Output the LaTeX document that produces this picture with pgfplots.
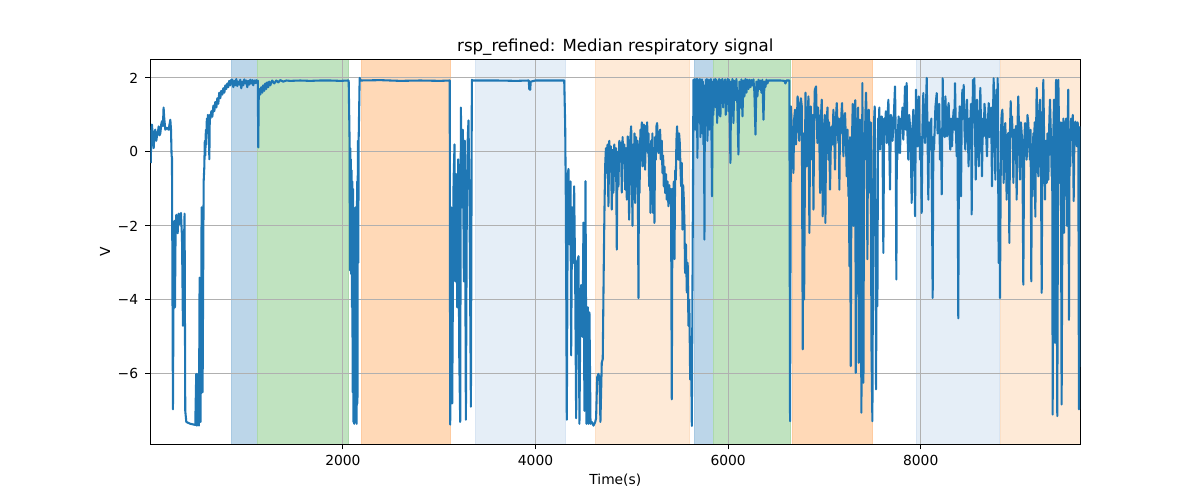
\documentclass[border=0pt]{standalone}
\usepackage{pgfplots}
\pgfplotsset{compat=1.18}
\usepackage{fontspec}
\setmainfont{DejaVu Sans}
\definecolor{tabblue}{RGB}{31,119,180}
\definecolor{gridgray}{RGB}{176,176,176}
\definecolor{sblue}{RGB}{188,214,233}
\definecolor{sgreen}{RGB}{192,227,192}
\definecolor{sorange}{RGB}{255,217,183}
\definecolor{slblue}{RGB}{229,238,247}
\definecolor{slorange}{RGB}{254,234,215}
\definecolor{eblue}{RGB}{168,201,226}
\definecolor{egreen}{RGB}{172,217,172}
\definecolor{eorange}{RGB}{254,203,160}
\definecolor{elblue}{RGB}{216,229,243}
\definecolor{elorange}{RGB}{252,224,198}
\pgfplotstableread{
x y
5 -0.30
10 0.50
17 0.74
28 0.35
35 0.10
45 0.55
52 0.60
62 0.30
69 0.42
80 0.55
87 0.69
97 0.45
104 0.50
114 0.75
121 0.83
131 0.70
138 1.20
145 0.90
156 0.60
173 0.65
190 0.60
208 0.87
215 0.60
221 -0.10
225 -0.16
235 -6.96
242 -3.50
249 -1.87
256 -4.20
263 -2.00
270 -1.70
284 -2.20
294 -1.67
304 -1.95
318 -1.65
329 -2.30
339 -4.70
346 -3.00
356 -1.67
363 -7.00
374 -7.30
415 -7.35
467 -7.38
477 -6.00
484 -7.40
495 -6.00
505 -7.40
512 -3.40
522 -7.30
533 -1.50
543 -6.50
554 -0.80
561 -0.40
566 0.30
571 -0.10
577 0.60
582 0.20
587 0.90
592 0.50
598 1.00
603 0.70
608 0.90
613 -0.20
618 1.00
624 0.90
634 1.10
644 0.95
655 1.25
665 1.10
675 1.35
686 1.20
696 1.45
706 1.30
716 1.60
727 1.45
737 1.65
748 1.55
758 1.72
769 1.60
779 1.80
789 1.70
800 1.85
810 1.75
820 1.92
831 1.80
841 1.95
851 1.95
862 1.75
872 1.92
882 1.80
893 1.97
903 1.78
913 1.90
924 1.82
934 1.95
945 1.72
955 1.90
965 1.80
976 1.96
986 1.85
997 1.93
1007 1.75
1017 1.92
1028 1.82
1038 1.95
1048 1.85
1059 1.94
1069 1.80
1080 1.93
1090 1.86
1100 1.94
1111 1.85
1116 1.93
1121 0.12
1126 1.50
1131 1.70
1142 1.55
1152 1.75
1163 1.60
1173 1.80
1183 1.65
1194 1.85
1204 1.70
1214 1.88
1225 1.75
1235 1.90
1246 1.80
1266 1.93
1287 1.85
1308 1.93
1329 1.88
1349 1.94
1381 1.90
1412 1.93
1453 1.92
1557 1.93
1661 1.92
1765 1.93
1868 1.93
1972 1.92
2055 1.93
2060 1.93
2070 0.20
2073 -3.20
2076 0.10
2080 -3.00
2083 -0.20
2086 -3.30
2091 -0.50
2094 -4.20
2097 -0.80
2101 -6.50
2105 -1.00
2109 -7.30
2113 -2.00
2117 -7.35
2122 -3.00
2126 -7.30
2130 -1.50
2134 -7.00
2138 -2.50
2143 -7.35
2147 -0.80
2151 -6.80
2155 0.30
2159 -3.00
2164 0.40
2169 1.20
2174 2.00
2184 1.93
2387 1.94
2595 1.92
2803 1.93
3010 1.92
3109 1.93
3114 -7.37
3124 -1.50
3135 -6.80
3149 -0.80
3159 0.20
3166 -3.50
3176 -0.60
3187 -4.20
3197 -0.20
3208 -5.50
3218 -7.30
3225 1.20
3235 -1.50
3246 0.60
3256 -3.50
3266 0.30
3277 -7.24
3287 -1.20
3297 0.40
3304 0.85
3315 -1.50
3329 -6.89
3339 1.95
3345 1.93
3600 1.93
3800 1.92
3930 1.93
3935 1.70
3945 1.68
3950 1.90
4000 1.93
4200 1.93
4298 1.93
4308 0.74
4315 -1.37
4325 -7.24
4336 -0.60
4342 -0.46
4353 -2.50
4363 -0.80
4370 -5.50
4380 -1.50
4391 -3.00
4401 -0.93
4412 -3.50
4422 -7.20
4432 -3.00
4446 -2.82
4456 -7.35
4467 -4.00
4474 -3.60
4487 -5.00
4498 -1.91
4508 -7.00
4519 -0.79
4529 -7.35
4543 -4.20
4550 -7.35
4560 -4.34
4571 -7.35
4584 -7.30
4602 -7.40
4620 -7.30
4629 -7.20
4640 -6.10
4653 -6.00
4664 -6.10
4674 -7.30
4688 -5.70
4698 -5.60
4709 -3.00
4715 -1.74
4723 -0.39
4731 0.10
4740 -0.57
4748 0.20
4757 -1.47
4766 0.30
4775 -0.48
4783 0.15
4792 -1.56
4800 0.05
4809 -1.10
4818 0.20
4827 -0.48
4836 0.10
4844 -2.64
4851 0.00
4856 -0.60
4861 -0.93
4870 0.30
4879 -0.12
4887 0.25
4896 -1.10
4904 0.40
4913 -0.30
4922 0.20
4931 -1.02
4940 0.10
4948 -1.29
4958 0.42
4965 -0.60
4972 -1.83
4983 0.30
4993 0.69
5000 -0.40
5007 -2.00
5014 0.20
5021 -0.66
5028 0.50
5034 -1.38
5043 0.40
5052 -0.93
5060 0.30
5069 -3.95
5075 0.20
5080 -1.11
5089 0.60
5097 0.33
5104 0.80
5111 -0.39
5118 0.40
5125 0.74
5131 0.10
5138 -0.48
5145 0.70
5152 0.33
5159 0.80
5166 -0.03
5173 0.50
5180 -0.93
5187 0.20
5194 -1.65
5200 0.30
5207 -0.21
5214 0.50
5221 -1.65
5228 0.10
5235 -1.92
5242 0.40
5249 -0.21
5256 0.70
5263 0.78
5270 0.20
5276 -0.03
5285 0.50
5294 0.60
5299 -0.20
5304 0.15
5311 0.30
5318 -0.57
5325 -0.10
5332 -0.93
5339 -0.40
5346 -1.11
5355 -0.60
5363 -1.29
5371 -0.80
5380 -1.47
5389 -0.90
5398 -1.38
5407 -1.00
5415 -6.69
5422 -1.00
5429 -1.56
5436 -0.80
5443 -2.90
5450 -0.50
5457 -0.75
5463 0.30
5470 0.69
5477 0.10
5484 -0.21
5491 0.50
5498 0.24
5505 -0.40
5512 -0.93
5519 -0.30
5526 -2.10
5533 -0.90
5540 -1.29
5547 -2.00
5553 -3.27
5562 -2.50
5571 -3.80
5580 -3.00
5588 -4.70
5597 -4.00
5606 -6.15
5614 -5.00
5623 -7.41
5640 1.95
5645 1.95
5650 0.90
5655 1.97
5660 0.60
5666 1.90
5671 1.20
5676 1.98
5681 -0.16
5686 1.90
5692 0.80
5697 1.95
5702 1.00
5707 1.97
5712 0.40
5718 1.85
5723 1.30
5728 1.96
5733 0.50
5738 1.90
5743 0.20
5749 1.60
5754 -2.37
5759 1.80
5764 0.70
5769 1.95
5775 1.10
5780 1.97
5785 0.30
5790 1.90
5795 0.90
5800 1.95
5806 0.60
5811 1.90
5816 1.20
5821 1.97
5826 0.80
5833 -1.20
5840 1.90
5847 1.00
5853 1.96
5863 1.50
5868 1.97
5873 1.20
5878 1.95
5886 0.78
5892 1.90
5899 1.30
5906 1.97
5912 1.00
5920 0.96
5927 1.95
5933 1.40
5941 1.97
5948 1.20
5954 1.90
5962 1.50
5969 1.96
5975 1.00
5982 1.90
5990 1.60
5996 1.97
6003 1.10
6010 1.95
6024 -0.30
6031 1.90
6037 1.30
6045 1.97
6055 0.78
6065 1.92
6076 1.40
6086 1.97
6097 1.20
6107 -0.07
6117 1.90
6128 1.20
6138 1.96
6149 0.96
6159 1.93
6169 1.50
6180 1.97
6190 1.60
6200 1.95
6211 1.70
6221 1.95
6232 1.75
6242 1.94
6252 1.80
6263 1.96
6273 1.60
6284 0.47
6294 1.90
6304 1.50
6315 1.95
6325 1.70
6335 1.93
6346 1.60
6356 1.95
6367 0.87
6377 1.90
6387 1.75
6398 1.95
6408 1.85
6418 1.93
6439 1.93
6543 1.93
6585 1.92
6595 1.85
6605 1.93
6636 1.93
6643 -7.28
6652 1.23
6665 0.40
6678 -0.57
6686 0.90
6695 1.14
6704 0.20
6713 0.69
6721 1.50
6730 1.32
6738 0.30
6747 0.78
6756 1.45
6765 1.23
6775 -5.34
6782 0.50
6789 -3.99
6803 1.60
6810 0.60
6817 -0.39
6825 0.90
6834 1.50
6844 -2.19
6851 0.60
6858 1.23
6865 0.40
6872 -0.21
6879 1.00
6886 -1.56
6893 0.80
6900 1.68
6913 1.77
6920 0.90
6927 0.24
6934 1.20
6941 0.87
6948 0.20
6955 -1.11
6963 0.90
6972 1.41
6977 0.30
6982 -1.74
6989 0.70
6996 0.24
7003 1.00
7010 -1.92
7017 0.40
7024 0.87
7032 1.20
7041 -0.21
7049 0.80
7058 -1.02
7067 0.30
7076 0.69
7084 0.20
7093 1.14
7101 0.60
7110 -0.48
7119 0.90
7128 1.32
7136 0.70
7145 0.24
7150 0.90
7155 -1.02
7162 0.80
7169 0.51
7176 1.00
7183 1.32
7190 0.50
7197 -0.12
7205 0.90
7214 1.05
7223 0.30
7232 -0.66
7240 0.60
7249 -1.20
7254 0.30
7259 -3.09
7266 0.40
7273 -5.79
7280 -1.00
7287 0.42
7294 1.30
7301 -2.00
7308 0.80
7315 0.60
7320 1.40
7325 -5.97
7333 0.90
7342 -0.48
7349 1.20
7356 -5.70
7363 -0.50
7370 0.87
7377 -2.00
7384 -7.05
7394 1.86
7405 -6.24
7412 0.50
7419 -0.21
7425 1.00
7432 1.60
7439 0.70
7446 -2.90
7453 0.50
7460 1.14
7467 0.40
7474 -1.11
7481 0.80
7488 -5.16
7498 -7.28
7508 -0.21
7515 0.80
7522 1.23
7529 -1.00
7536 -6.42
7543 -2.00
7550 -4.17
7557 0.90
7564 0.69
7570 1.20
7577 0.06
7586 0.80
7595 0.96
7603 0.30
7612 -2.73
7620 0.90
7629 0.69
7638 1.10
7647 0.24
7655 0.90
7664 1.41
7672 0.40
7681 -1.02
7690 1.00
7699 0.87
7707 0.30
7716 0.69
7724 1.20
7733 1.77
7740 0.50
7747 -3.45
7752 0.40
7757 -0.21
7764 0.60
7771 0.96
7778 0.20
7785 -0.03
7793 0.90
7802 0.78
7810 1.20
7819 0.33
7828 1.00
7837 1.77
7845 0.60
7854 1.86
7862 0.50
7871 -0.21
7880 1.00
7889 0.69
7897 0.10
7906 -1.38
7914 0.60
7923 1.14
7932 0.30
7941 -1.74
7951 1.68
7958 0.80
7965 0.15
7972 0.90
7979 1.50
7986 0.60
7993 -0.21
8001 0.40
8010 -1.65
8018 0.70
8027 1.59
8036 0.60
8045 0.24
8053 1.10
8062 2.00
8070 0.60
8079 -1.29
8087 0.80
8096 0.06
8110 0.90
8124 -3.95
8131 0.40
8138 0.06
8152 1.20
8166 1.59
8175 0.50
8183 0.78
8192 1.30
8200 -0.21
8209 0.60
8218 -1.15
8228 1.99
8235 0.50
8242 0.96
8249 0.40
8256 1.50
8264 0.90
8273 0.42
8281 1.10
8290 1.32
8298 0.50
8307 0.06
8316 0.90
8325 0.15
8333 0.80
8342 1.14
8349 0.60
8356 1.86
8364 0.70
8373 -0.12
8381 0.90
8390 -4.50
8397 0.30
8404 1.23
8411 0.50
8418 -1.20
8425 0.80
8432 1.68
8439 0.90
8446 1.81
8454 0.60
8463 0.06
8471 0.90
8480 1.41
8488 0.60
8497 -0.39
8506 0.90
8515 0.78
8522 1.30
8529 -1.69
8536 0.70
8543 1.95
8550 0.80
8557 1.99
8564 0.60
8571 -0.75
8577 0.70
8584 1.41
8593 0.40
8602 -0.39
8610 0.80
8619 1.73
8627 0.50
8636 -0.66
8645 0.90
8654 0.42
8662 1.30
8671 0.96
8680 0.40
8688 -0.12
8697 0.80
8706 1.32
8714 0.40
8723 0.78
8731 1.20
8740 -0.93
8748 0.60
8757 1.99
8766 0.80
8775 -0.75
8785 1.68
8792 0.60
8799 1.99
8809 -3.00
8816 -0.50
8823 -3.95
8833 0.51
8840 1.00
8848 1.14
8854 0.30
8861 -0.84
8870 0.50
8878 0.78
8885 0.10
8892 -1.29
8900 0.40
8909 0.51
8915 0.00
8920 -2.46
8927 0.60
8934 1.37
8941 0.50
8948 0.96
8955 0.20
8962 -0.84
8970 0.60
8979 0.06
8988 0.70
8996 -1.29
9004 0.60
9013 1.50
9022 0.40
9031 -0.75
9040 0.80
9048 0.51
9056 0.10
9065 -3.59
9074 0.20
9083 0.78
9091 0.30
9100 -0.21
9108 1.00
9117 0.78
9125 0.20
9134 -0.21
9141 0.60
9148 -3.50
9155 0.20
9162 -1.20
9169 0.50
9176 0.06
9183 0.80
9190 -1.75
9197 0.40
9204 1.73
9213 0.50
9221 -0.66
9230 0.90
9238 1.41
9247 0.30
9256 -3.81
9264 0.60
9273 1.95
9281 0.40
9290 -1.29
9299 0.30
9308 -0.84
9316 0.50
9325 -0.75
9333 0.60
9342 1.41
9351 0.50
9360 -0.66
9365 0.40
9370 -7.10
9377 0.50
9384 1.41
9394 -5.16
9405 1.95
9418 -7.14
9429 1.95
9437 0.40
9446 -0.84
9454 0.80
9463 -6.83
9474 0.06
9481 0.90
9488 -2.19
9494 0.80
9501 0.60
9510 0.90
9519 -2.00
9525 0.50
9532 1.68
9539 -4.54
9546 0.60
9553 -0.39
9561 0.90
9570 0.33
9579 1.00
9588 -1.33
9596 0.50
9605 0.82
9613 0.30
9622 0.15
9629 0.80
9636 0.60
9643 -6.96
9650 -3.80
9657 0.69
}\sig
\begin{document}
\begin{tikzpicture}
\begin{axis}[
  at={(1.503in,0.555in)}, anchor=south west,
  scale only axis, width=9.30in, height=3.847in,
  set layers,
  xmin=0, xmax=9657, ymin=-7.91, ymax=2.49,
  xtick={2000,4000,6000,8000},
  xticklabels={2000,4000,6000,8000},
  ytick={-6,-4,-2,0,2},
  yticklabels={−6,−4,−2,0,2},
  tick align=outside,
  xtick pos=bottom, ytick pos=left,
  major tick length=3.5pt,
  every tick/.style={black, line width=0.8pt},
  axis line style={black, line width=0.8pt},
  grid=major,
  major grid style={gridgray, line width=0.8pt},
  tick label style={font=\fontsize{10}{12}\selectfont, inner sep=0pt},
  xticklabel style={anchor=north, yshift=-4.4pt},
  yticklabel style={anchor=east, xshift=-5.1pt},
  label style={font=\fontsize{10}{12}\selectfont, inner sep=0pt},
  xlabel={Time(s)},
  ylabel={V},
  xlabel style={at={(axis description cs:0.5,-0.0936)}, anchor=center},
  ylabel style={at={(axis description cs:-0.0487,0.5)}, anchor=center},
  title={rsp\_refined: Median respiratory signal},
  title style={font=\fontsize{12}{14.4}\selectfont, at={(axis description cs:0.5,1)}, anchor=base, inner sep=0pt},
]
\addplot[on layer=axis background, fill=sblue, draw=eblue, line width=0.7pt] coordinates {(841,-7.91) (1114,-7.91) (1114,2.49) (841,2.49)} -- cycle;
\addplot[on layer=axis background, fill=sgreen, draw=egreen, line width=0.7pt] coordinates {(1114,-7.91) (2063,-7.91) (2063,2.49) (1114,2.49)} -- cycle;
\addplot[on layer=axis background, fill=sorange, draw=eorange, line width=0.7pt] coordinates {(2190,-7.91) (3114,-7.91) (3114,2.49) (2190,2.49)} -- cycle;
\addplot[on layer=axis background, fill=slblue, draw=elblue, line width=0.7pt] coordinates {(3373,-7.91) (4308,-7.91) (4308,2.49) (3373,2.49)} -- cycle;
\addplot[on layer=axis background, fill=slorange, draw=elorange, line width=0.7pt] coordinates {(4619,-7.91) (5600,-7.91) (5600,2.49) (4619,2.49)} -- cycle;
\addplot[on layer=axis background, fill=sblue, draw=eblue, line width=0.7pt] coordinates {(5647,-7.91) (5848,-7.91) (5848,2.49) (5647,2.49)} -- cycle;
\addplot[on layer=axis background, fill=sgreen, draw=egreen, line width=0.7pt] coordinates {(5848,-7.91) (6643,-7.91) (6643,2.49) (5848,2.49)} -- cycle;
\addplot[on layer=axis background, fill=sorange, draw=eorange, line width=0.7pt] coordinates {(6664,-7.91) (7502,-7.91) (7502,2.49) (6664,2.49)} -- cycle;
\addplot[on layer=axis background, fill=slblue, draw=elblue, line width=0.7pt] coordinates {(7951,-7.91) (8813,-7.91) (8813,2.49) (7951,2.49)} -- cycle;
\addplot[on layer=axis background, fill=slorange, draw=none] coordinates {(8830,-7.91) (9657,-7.91) (9657,2.49) (8830,2.49)} -- cycle;
\addplot[on layer=axis background, draw=elorange, line width=0.7pt] coordinates {(8830,-7.91) (8830,2.49)};
\addplot[tabblue, line width=1.5pt, line join=round, mark=none] table[x=x, y=y] {\sig};
\end{axis}
\path (0,0) rectangle (12in,5in);
\end{tikzpicture}
\end{document}
